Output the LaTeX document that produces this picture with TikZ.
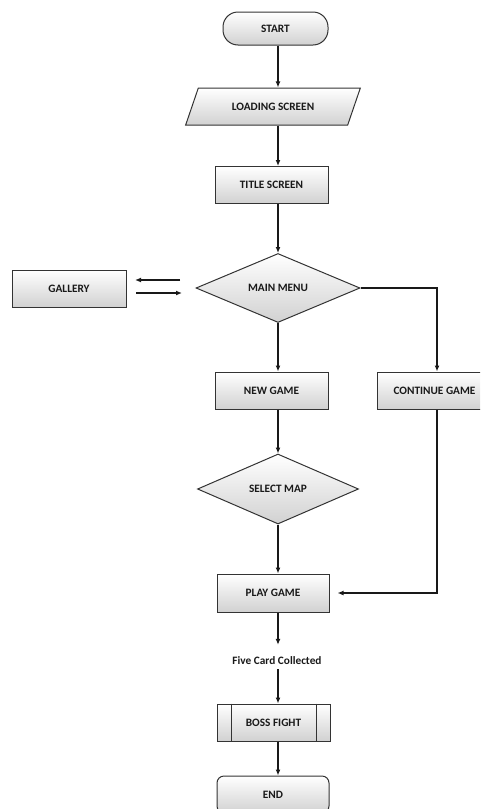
\documentclass[tikz,border=0pt]{standalone}
\usepackage{fontspec}
\setmainfont{Carlito}
\usetikzlibrary{shapes.geometric,arrows.meta}
\begin{document}
\begin{tikzpicture}[x=1pt,y=-1pt,
  every node/.style={font=\bfseries\fontsize{11.3}{13}\selectfont, text=black!90},
  proc/.style={draw=black!80, line width=1pt, top color=white, bottom color=black!18,
    minimum width=113pt, minimum height=37pt, inner sep=0pt},
  term/.style={proc, rounded corners=15pt},
  dec/.style={diamond, draw=black!80, line width=1pt, top color=white, bottom color=black!18,
    minimum width=164pt, minimum height=69pt, inner sep=0pt},
  io/.style={trapezium, trapezium left angle=47, trapezium right angle=133, trapezium stretches=true,
    draw=black!80, line width=1pt, top color=white, bottom color=black!18,
    minimum width=176pt, minimum height=37pt, inner sep=0pt},
  arr/.style={-{Latex[length=6pt,width=5pt]}, line width=1.5pt, draw=black!90},
  ln/.style={line width=1pt, draw=black!80}
]
\useasboundingbox (0,0) rectangle (480,809);
\clip (0,0) rectangle (480,809);
\coordinate (axis) at (278,0);
\coordinate (rt) at (437,0);

\node[term, minimum width=105pt, minimum height=33pt] (start) at (275.5,28.5) {START};
\node[io] (load) at (273,106.5) {LOADING SCREEN};
\node[proc] (title) at (271.5,185) {TITLE SCREEN};
\node[dec] (menu) at (278,288) {MAIN MENU};
\node[proc, minimum width=114pt] (gallery) at (69,288.5) {GALLERY};
\node[proc] (newgame) at (271.5,390.5) {NEW GAME};
\node[proc, minimum width=115pt] (cont) at (434.5,390.5) {CONTINUE GAME};
\node[dec, minimum width=161pt, minimum height=70pt] (select) at (278,489) {SELECT MAP};
\node[proc, minimum width=112pt, minimum height=38pt] (play) at (273,593) {PLAY GAME};
\node[inner sep=2pt] (five) at (277,661) {Five Card Collected};
\node[proc] (boss) at (273.5,722.5) {BOSS FIGHT};
\node[proc, rounded corners=7pt, minimum width=112pt] (end) at (273,794.5) {END};

\draw[ln] ([xshift=15pt]boss.north west) -- ([xshift=15pt]boss.south west);
\draw[ln] ([xshift=-14pt]boss.north east) -- ([xshift=-14pt]boss.south east);

\draw[arr] (start.south -| axis) -- (load.north -| axis);
\draw[arr] (load.south -| axis) -- (title.north -| axis);
\draw[arr] (title.south -| axis) -- (menu.north);
\draw[arr] (menu.south) -- (newgame.north -| axis);
\draw[arr] (menu.east) -| (cont.north -| rt);
\draw[arr] (newgame.south -| axis) -- (select.north);
\draw[arr] (select.south) -- (play.north -| axis);
\draw[arr] (cont.south -| rt) |- ([xshift=8pt]play.east);
\draw[arr] (play.south -| axis) -- ([yshift=10pt]five.north -| axis);
\draw[arr] ([yshift=-2pt]five.south -| axis) -- (boss.north -| axis);
\draw[arr] (boss.south -| axis) -- (end.north -| axis);

\coordinate (ga1) at (180,280);
\coordinate (ga2) at (135,280);
\coordinate (gb1) at (136,293);
\coordinate (gb2) at (182,293);
\draw[arr] (ga1) -- (ga2);
\draw[arr] (gb1) -- (gb2);
\end{tikzpicture}
\end{document}
